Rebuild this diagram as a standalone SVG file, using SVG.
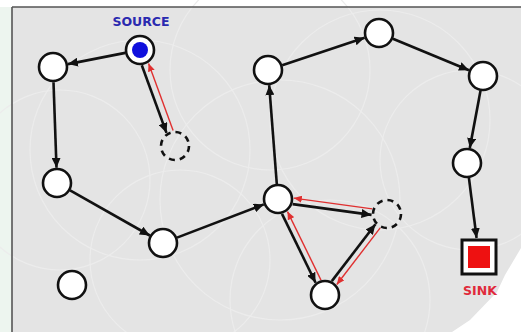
<svg xmlns="http://www.w3.org/2000/svg" width="521" height="332" viewBox="0 0 521 332">
<style>
.n{fill:#fff;stroke:#111;stroke-width:2.6}
.d{fill:none;stroke:#111;stroke-width:2.6;stroke-dasharray:6 5}
.e{stroke:#111;stroke-width:2.6;fill:none;marker-end:url(#ab)}
.r{stroke:#e03030;stroke-width:1.4;fill:none;marker-end:url(#ar)}
.bg{fill:none;stroke:#ececec;stroke-width:1.2}
.lbl{font-family:"DejaVu Sans",sans-serif;font-weight:bold;font-size:12.5px;text-anchor:middle}
</style>
<defs>
<marker id="ab" markerUnits="userSpaceOnUse" markerWidth="11" markerHeight="9" refX="10" refY="4.5" orient="auto"><path d="M0,0 L10,4.5 L0,9 z" fill="#111"/></marker>
<marker id="ar" markerUnits="userSpaceOnUse" markerWidth="9" markerHeight="7" refX="8" refY="3.5" orient="auto"><path d="M0,0 L8,3.5 L0,7 z" fill="#e03030"/></marker>
</defs>
<rect width="521" height="332" fill="#fff"/>
<rect x="0" y="7" width="12" height="325" fill="#edf5ef"/>
<rect x="12" y="7" width="509" height="325" fill="#e4e4e4"/>
<g class="bg">
<circle cx="140" cy="150" r="110"/><circle cx="280" cy="200" r="120"/><circle cx="380" cy="120" r="110"/>
<circle cx="60" cy="180" r="90"/><circle cx="330" cy="300" r="100"/><circle cx="470" cy="160" r="90"/>
<circle cx="180" cy="260" r="90"/><circle cx="270" cy="70" r="100"/>
</g>
<path d="M521,248 L505,275 L497,292 L470,320 L452,332 L521,332 Z" fill="#fff"/>
<line x1="12" y1="7" x2="521" y2="7" stroke="#555" stroke-width="1.6"/>
<line x1="12" y1="7" x2="12" y2="332" stroke="#555" stroke-width="1.6"/>
<g id="connectors">
<line class="e" x1="125.3" y1="52.9" x2="67.9" y2="64.1"/>
<line class="e" x1="141.8" y1="65.3" x2="166.5" y2="132.9"/>
<line class="r" x1="173.1" y1="130.5" x2="148.6" y2="63.4"/>
<line class="e" x1="53.5" y1="82.2" x2="56.5" y2="167.8"/>
<line class="e" x1="70.1" y1="190.4" x2="149.8" y2="235.5"/>
<line class="e" x1="177" y1="237.6" x2="263.8" y2="204.4"/>
<line class="e" x1="276.8" y1="184" x2="269.2" y2="85.2"/>
<line class="e" x1="282.2" y1="65.3" x2="364.6" y2="37.8"/>
<line class="e" x1="392.9" y1="38.7" x2="469" y2="70.2"/>
<line class="e" x1="480.5" y1="90.7" x2="469.8" y2="148.1"/>
<line class="e" x1="468.9" y1="177.9" x2="476.6" y2="238"/>
<line class="e" x1="292.7" y1="204.1" x2="371.5" y2="214.9"/>
<line class="r" x1="372.3" y1="208.9" x2="293.8" y2="198.1"/>
<line class="e" x1="282" y1="213.9" x2="315.6" y2="282.7"/>
<line class="r" x1="321" y1="280.1" x2="287.5" y2="211.6"/>
<line class="e" x1="331.8" y1="281.1" x2="375.4" y2="224.3"/>
<line class="r" x1="380.2" y1="227.9" x2="336.8" y2="284.5"/>
</g>
<g id="source">
<circle cx="140" cy="50" r="14" class="n"/>
<circle cx="140" cy="50" r="8" fill="#1010dd"/>
<text class="lbl" x="141" y="26" fill="#2a2ab0">SOURCE</text>
</g>
<g id="nA"><circle cx="53" cy="67" r="14" class="n"/></g>
<g id="nDash1"><circle cx="175" cy="146" r="14" class="d"/></g>
<g id="nB"><circle cx="57" cy="183" r="14" class="n"/></g>
<g id="nC"><circle cx="163" cy="243" r="14" class="n"/></g>
<g id="nD"><circle cx="278" cy="199" r="14" class="n"/></g>
<g id="nE"><circle cx="268" cy="70" r="14" class="n"/></g>
<g id="nF"><circle cx="379" cy="33" r="14" class="n"/></g>
<g id="nG"><circle cx="483" cy="76" r="14" class="n"/></g>
<g id="nH"><circle cx="467" cy="163" r="14" class="n"/></g>
<g id="nDash2"><circle cx="387" cy="214" r="14" class="d"/></g>
<g id="nI"><circle cx="325" cy="295" r="14" class="n"/></g>
<g id="nJ"><circle cx="72" cy="285" r="14" class="n"/></g>
<g id="sink">
<rect x="462" y="240" width="34" height="34" fill="#fff" stroke="#111" stroke-width="3"/>
<rect x="468" y="246" width="22" height="22" fill="#ee1111"/>
<text class="lbl" x="480" y="295" fill="#e02a3a">SINK</text>
</g>
</svg>
